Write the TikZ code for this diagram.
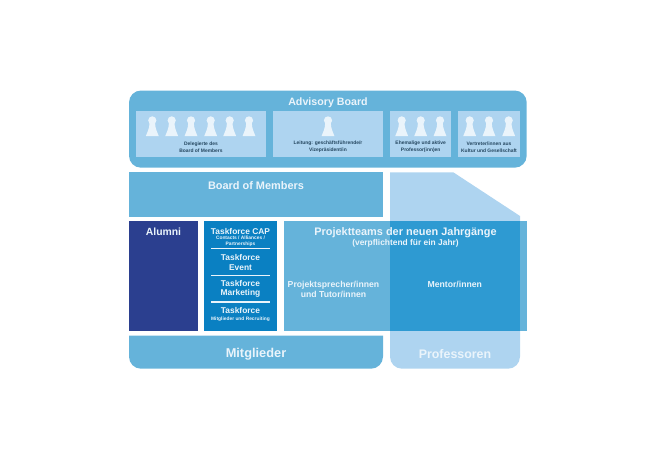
\documentclass[tikz,border=0pt]{standalone}
\usepackage{fontspec}
\setmainfont{Liberation Sans}
\definecolor{panelblue}{HTML}{65B3DA}
\definecolor{lightblue}{HTML}{AED4F0}
\definecolor{alumniblue}{HTML}{2B3F8F}
\definecolor{taskblue}{HTML}{0A80C2}
\definecolor{overlapblue}{HTML}{2E9AD2}
\definecolor{softwhite}{HTML}{EAF4FB}
\definecolor{smalltext}{HTML}{24465F}
\tikzset{
    title/.style={text=softwhite,font=\bfseries\fontsize{8}{9.5}\selectfont,align=center,inner sep=0pt},
    bigtitle/.style={title,font=\bfseries\fontsize{9.3}{11}\selectfont},
    tasktext/.style={title,font=\bfseries\fontsize{6.3}{7.2}\selectfont},
    tinytext/.style={title,font=\bfseries\fontsize{3.65}{4.5}\selectfont},
    boxtext/.style={text=smalltext,font=\bfseries\fontsize{3.7}{5.25}\selectfont,align=center,inner sep=0pt},
    pawn/.pic={
        \fill[softwhite] (0,-15.8) circle (4.1);
        \fill[softwhite] (-2.8,-13) -- (2.8,-13) .. controls (2.8,-8) and (5,-4) .. (6.5,0)
            -- (-6.5,0) .. controls (-5,-4) and (-2.8,-8) .. (-2.8,-13) -- cycle;
    }
}
\begin{document}
\begin{tikzpicture}[x=0.75pt,y=-0.75pt]
    \useasboundingbox (0,0) rectangle (656,464);

    % Advisory Board
    \fill[panelblue,rounded corners=9] (129,90.5) rectangle (526.7,167.7);
    \fill[lightblue] (135.7,110.7) rectangle (266,156.7);
    \fill[lightblue] (272.7,110.7) rectangle (383,156.7);
    \fill[lightblue] (390,110.7) rectangle (451.3,156.7);
    \fill[lightblue] (458.3,110.7) rectangle (520,156.7);
    \node[title] (advisory) at (328,102.5) {Advisory Board};

    \foreach \x in {152.3,171.7,191,210.7,229.7,249,328,401.7,420.7,440,469.7,489,508.7}
        \pic at (\x,136.2) {pawn};

    \node[boxtext] (delegierte) at (201,147) {Delegierte des\\Board of Members};
    \node[boxtext] (leitung) at (328,147) {Leitung: geschäftsführende/r\\Vizepräsident/in};
    \node[boxtext] (ehemalige) at (420.7,147) {Ehemalige und aktive\\Professor(inn)en};
    \node[boxtext] (vertreter) at (489,147) {Vertreter/innen aus\\Kultur und Gesellschaft};

    % Professoren
    \fill[lightblue] (390,172.3) -- (453.3,172.3) -- (520,216)
        [rounded corners=9] -- (520,368.7) -- (390,368.7) [sharp corners] -- cycle;
    \node[bigtitle] (professoren) at (455,354) {Professoren};

    % Board of Members
    \fill[panelblue] (129,172.3) rectangle (383,216.5);
    \node[title,font=\bfseries\fontsize{8.2}{10}\selectfont] (board) at (256,185.5) {Board of Members};

    % Alumni und Taskforces
    \fill[alumniblue] (129,220.7) rectangle (197.7,331.3);
    \node[title,font=\bfseries\fontsize{7.8}{9}\selectfont] (alumni) at (163.5,232) {Alumni};
    \fill[taskblue] (204,220.7) rectangle (277,331.3);
    \node[tasktext] (capname) at (240.5,231.2) {Taskforce CAP};
    \node[tinytext] (capsub) at (240.5,241.5) {Contacts / Alliances /\\Partnerships};
    \node[tasktext] (event) at (240.5,262.3) {Taskforce\\Event};
    \node[tasktext] (marketing) at (240.5,288.8) {Taskforce\\Marketing};
    \node[tasktext] (recruiting) at (240.5,310.5) {Taskforce};
    \node[tinytext] (recsub) at (240.5,319) {Mitglieder und Recruiting};
    \foreach \y in {248.7,275.3,302}
        \draw[softwhite,line width=0.8pt] (211.3,\y) -- (270.3,\y);

    % Projektteams
    \fill[panelblue] (283.7,220.7) rectangle (526.7,331.3);
    \fill[overlapblue] (390,220.7) rectangle (520,331.3);
    \node[title,font=\bfseries\fontsize{8.2}{10}\selectfont] (projekt) at (405.5,233) {Projektteams der neuen Jahrgänge};
    \node[title,font=\bfseries\fontsize{6.3}{7}\selectfont] (pflicht) at (405.5,243.5) {(verpflichtend für ein Jahr)};
    \node[tasktext,font=\bfseries\fontsize{6.5}{7.7}\selectfont] (sprecher) at (333.5,289.3) {Projektsprecher/innen\\und Tutor/innen};
    \node[tasktext,font=\bfseries\fontsize{6.5}{7.7}\selectfont] (mentor) at (454.8,284) {Mentor/innen};

    % Mitglieder
    \fill[panelblue] (129,335.7) -- (383,335.7) [rounded corners=9] -- (383,368.7) -- (129,368.7) [sharp corners] -- cycle;
    \node[bigtitle,font=\bfseries\fontsize{9.6}{11}\selectfont] (mitglieder) at (256,354) {Mitglieder};
\end{tikzpicture}
\end{document}
